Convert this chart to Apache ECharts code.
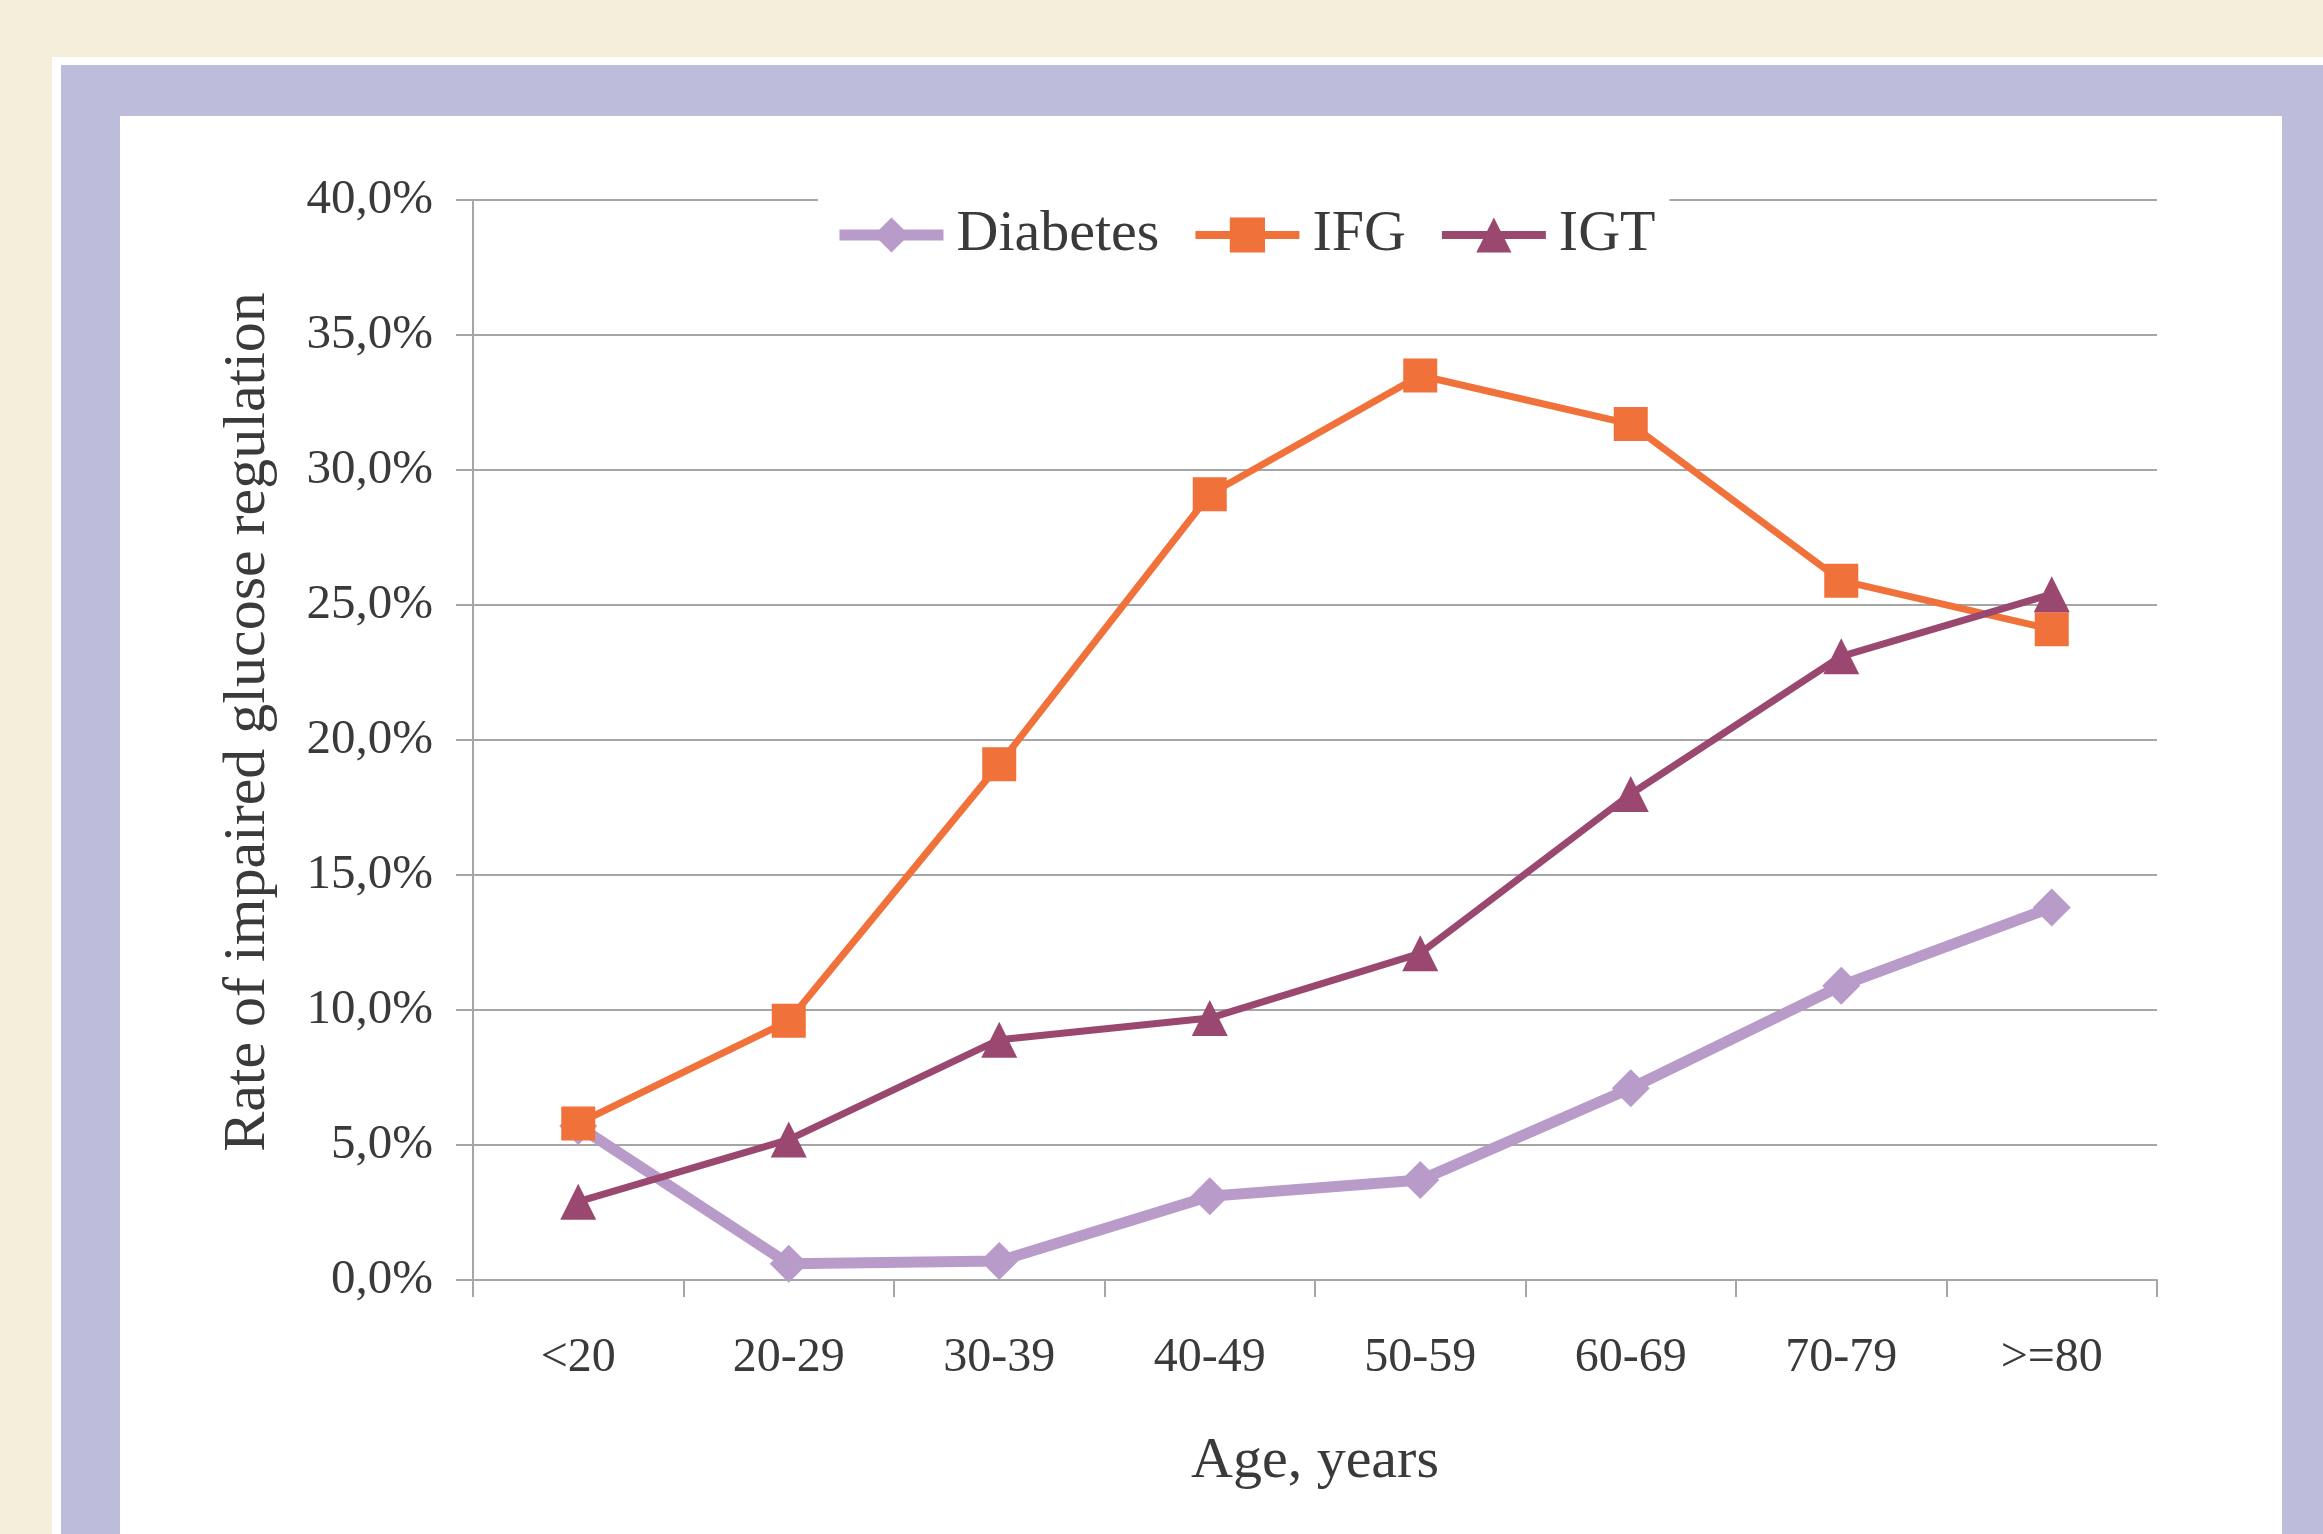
<!DOCTYPE html>
<html>
<head>
<meta charset="utf-8">
<title>Rate of impaired glucose regulation by age</title>
<script src="https://cdn.jsdelivr.net/npm/echarts@6/dist/echarts.min.js"></script>
<style>
html, body { margin: 0; padding: 0; background: #F5EEDA; }
#chart { width: 2323px; height: 1534px; }
</style>
</head>
<body>
<div id="chart"></div>
<script>
// categories (age groups)
var ageGroups = ['<20', '20-29', '30-39', '40-49', '50-59', '60-69', '70-79', '>=80'];
// series values, %
var diabetesData = [5.7, 0.6, 0.7, 3.1, 3.7, 7.1, 10.9, 13.8];
var ifgData = [5.8, 9.6, 19.1, 29.1, 33.5, 31.7, 25.9, 24.1];
var igtData = [2.9, 5.2, 8.9, 9.7, 12.1, 18.0, 23.1, 25.4];
// y axis range
var yMin = 0, yMax = 40, yStep = 5;

var FONT = 'Liberation Serif';
var TEXT_COLOR = '#3a3a3a';
var GRID_COLOR = '#A6A6A6';
var colors = { diabetes: '#B99BCA', ifg: '#F1713A', igt: '#9A4870' };

var myChart = echarts.init(document.getElementById('chart'));

var option = {
    animation: false,
    backgroundColor: '#F5EEDA',
    // frame around the chart (decoration only)
    graphic: [
        { type: 'rect', z: -100, silent: true, shape: { x: 52, y: 57, width: 2271, height: 1477 }, style: { fill: '#ffffff' } },
        { type: 'rect', z: -99, silent: true, shape: { x: 61, y: 65, width: 2262, height: 1469 }, style: { fill: '#BDBDDB' } },
        { type: 'rect', z: -98, silent: true, shape: { x: 120, y: 116, width: 2162, height: 1418 }, style: { fill: '#ffffff' } }
    ],
    grid: {
        left: 473,
        right: 166,
        top: 200,
        bottom: 254
    },
    legend: {
        left: 818,
        top: 186,
        padding: [20, 14, 8, 16],
        backgroundColor: '#ffffff',
        itemWidth: 104,
        itemHeight: 44,
        itemGap: 32,
        textStyle: { fontFamily: FONT, fontSize: 58, color: TEXT_COLOR, padding: [0, 0, 0, 8] },
        data: [
            { name: 'Diabetes', lineStyle: { width: 11 } },
            { name: 'IFG', lineStyle: { width: 8 } },
            { name: 'IGT', lineStyle: { width: 8 } }
        ]
    },
    xAxis: {
        type: 'category',
        data: ageGroups,
        boundaryGap: true,
        name: 'Age, years',
        nameLocation: 'middle',
        nameGap: 153,
        nameTextStyle: { fontFamily: FONT, fontSize: 58, color: TEXT_COLOR },
        axisLine: { lineStyle: { color: GRID_COLOR, width: 2 } },
        axisTick: { show: true, length: 17, lineStyle: { color: GRID_COLOR, width: 2 } },
        axisLabel: { interval: 0, margin: 54, fontFamily: FONT, fontSize: 48, color: TEXT_COLOR }
    },
    yAxis: {
        type: 'value',
        min: yMin,
        max: yMax,
        interval: yStep,
        name: 'Rate of impaired glucose regulation',
        nameLocation: 'middle',
        nameGap: 195,
        nameTextStyle: { fontFamily: FONT, fontSize: 60, color: TEXT_COLOR, padding: [0, 0, 0, 36] },
        axisLine: { show: true, lineStyle: { color: GRID_COLOR, width: 2 } },
        axisTick: { show: true, length: 17, lineStyle: { color: GRID_COLOR, width: 2 } },
        splitLine: { show: true, lineStyle: { color: GRID_COLOR, width: 2 } },
        axisLabel: {
            margin: 40,
            fontFamily: FONT,
            fontSize: 49,
            color: TEXT_COLOR,
            formatter: function(v) {
                return v.toFixed(1).replace('.', ',') + '%';
            }
        }
    },
    series: [{
        name: 'Diabetes',
        type: 'line',
        data: diabetesData,
        symbol: 'diamond',
        symbolSize: 38,
        color: colors.diabetes,
        lineStyle: { width: 11, color: colors.diabetes },
        itemStyle: { color: colors.diabetes }
    }, {
        name: 'IFG',
        type: 'line',
        data: ifgData,
        symbol: 'rect',
        symbolSize: 34,
        color: colors.ifg,
        lineStyle: { width: 7, color: colors.ifg },
        itemStyle: { color: colors.ifg }
    }, {
        name: 'IGT',
        type: 'line',
        data: igtData,
        symbol: 'triangle',
        symbolSize: 36,
        color: colors.igt,
        lineStyle: { width: 7, color: colors.igt },
        itemStyle: { color: colors.igt }
    }]
};

myChart.setOption(option);
</script>
</body>
</html>
